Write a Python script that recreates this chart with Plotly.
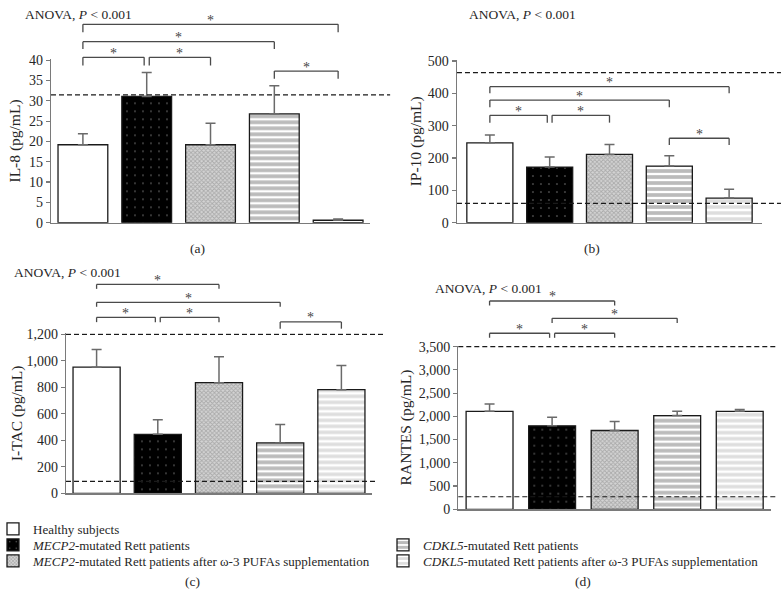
import plotly.graph_objects as go

# ---------------- data ----------------
groups = [
    "Healthy subjects",
    "<i>MECP2</i>-mutated Rett patients",
    "<i>MECP2</i>-mutated Rett patients after ω-3 PUFAs supplementation",
    "<i>CDKL5</i>-mutated Rett patients",
    "<i>CDKL5</i>-mutated Rett patients after ω-3 PUFAs supplementation",
]
categories = [0, 1, 2, 3, 4]

il8_mean = [19.2, 31.1, 19.2, 26.8, 0.6]
il8_err = [2.7, 5.9, 5.3, 6.9, 0.3]
ip10_mean = [247, 172, 211, 175, 76]
ip10_err = [24, 31, 31, 32, 27]
itac_mean = [952, 445, 835, 380, 782]
itac_err = [133, 110, 195, 140, 183]
rantes_mean = [2108, 1796, 1696, 2017, 2108]
rantes_err = [159, 185, 192, 91, 37]

il8_ref = [31.5]
ip10_ref = [464, 60]
itac_ref = [1200, 90]
rantes_ref = [3500, 270]

y_titles = ["IL-8 (pg/mL)", "IP-10 (pg/mL)", "I-TAC (pg/mL)", "RANTES (pg/mL)"]
panel_labels = ["(a)", "(b)", "(c)", "(d)"]
y_ranges = [[0, 40], [0, 500], [0, 1200], [0, 3500]]
y_dticks = [5, 100, 200, 500]

# significance brackets: (from, to, level in axis-domain units, leg length)
brackets = [
    [(0, 4, 1.214, 0.048), (0, 3, 1.108, 0.045), (0, 1, 1.012, 0.05), (1, 2, 1.012, 0.05), (3, 4, 0.928, 0.047)],
    [(0, 4, 0.836, 0.041), (0, 3, 0.754, 0.045), (0, 1, 0.660, 0.045), (1, 2, 0.660, 0.045), (3, 4, 0.519, 0.041)],
    [(0, 2, 1.306, 0.028), (0, 3, 1.194, 0.028), (0, 1, 1.100, 0.03), (1, 2, 1.100, 0.03), (3, 4, 1.071, 0.042)],
    [(0, 2, 1.273, 0.028), (1, 3, 1.167, 0.028), (0, 1, 1.076, 0.028), (1, 2, 1.076, 0.028)],
]

# ---------------- styling ----------------
FONT = "Liberation Serif"
TXT = "#262626"
GRAY = "#7a7a7a"
patterns = [
    dict(color="white", pattern=dict(shape="")),
    dict(color="black", pattern=dict(shape=".", fgcolor="white", bgcolor="black", size=8, solidity=0.03)),
    dict(color="#a8a8a8", pattern=dict(shape="x", fgcolor="#808080", bgcolor="#d4d4d4", size=3, solidity=0.5)),
    dict(color="#787878", pattern=dict(shape="-", fgcolor="#787878", bgcolor="white", size=6, solidity=0.62)),
    dict(color="#bdbdbd", pattern=dict(shape="-", fgcolor="#bdbdbd", bgcolor="white", size=6, solidity=0.58)),
]
bar_widths = [0.78, 0.77, 0.77, 0.75]

x_domains = [[0.0653, 0.4738], [0.5851, 0.9757], [0.0845, 0.4763], [0.5868, 0.9872]]
y_domains = [[0.6301, 0.9015], [0.6301, 0.9003], [0.1806, 0.4463], [0.1540, 0.4258]]
x_ranges = [[-0.5, 4.5], [-0.55, 4.55], [-0.5, 4.5], [-0.5, 4.5]]
ref_extent = [[1.063], [1.062, 1.062], [1.036, 1.016], [1.019, 1.019]]
title_standoff = [4, 2, 0, 3]
range_pad = 1.006  # tiny headroom so lines on the top tick aren't clipped

means = [il8_mean, ip10_mean, itac_mean, rantes_mean]
errs = [il8_err, ip10_err, itac_err, rantes_err]
refs = [il8_ref, ip10_ref, itac_ref, rantes_ref]

fig = go.Figure()
legend_ids = ["legend", "legend2", "legend3", "legend4", "legend5"]

for p in range(4):
    n = "" if p == 0 else str(p + 1)
    for g in range(5):
        m = patterns[g]
        fig.add_trace(go.Bar(
            x=[categories[g]], y=[means[p][g]],
            width=bar_widths[p],
            name=groups[g],
            marker=dict(color=m["color"], pattern=m["pattern"],
                        line=dict(color="#1a1a1a", width=1.3)),
            error_y=dict(type="data", array=[errs[p][g]], arrayminus=[0], symmetric=False,
                         color="#6a6a6a", thickness=1.5, width=5),
            xaxis="x" + n, yaxis="y" + n,
            showlegend=(p == 0), legend=legend_ids[g],
        ))

shapes = []
annotations = []
for p in range(4):
    n = "" if p == 0 else str(p + 1)
    xa, ya = "x" + n, "y" + n
    for k, v in enumerate(refs[p]):
        shapes.append(dict(type="line", xref=xa + " domain", yref=ya, x0=0, x1=ref_extent[p][k],
                           y0=v, y1=v, line=dict(color="#1a1a1a", width=1.2, dash="5px,3px")))
    ends = {}
    for (i, j, lvl, leg) in brackets[p]:
        ends.setdefault(lvl, []).append((i, j))
    for (i, j, lvl, leg) in brackets[p]:
        x0, x1 = categories[i], categories[j]
        same = ends[lvl]
        if any(a == j for (a, b) in same if (a, b) != (i, j)):
            x1 -= 0.04
        if any(b == i for (a, b) in same if (a, b) != (i, j)):
            x0 += 0.04
        lc = dict(color="#4a4a4a", width=1.3)
        shapes.append(dict(type="line", xref=xa, yref=ya + " domain", x0=x0, x1=x1, y0=lvl, y1=lvl, line=lc))
        shapes.append(dict(type="line", xref=xa, yref=ya + " domain", x0=x0, x1=x0, y0=lvl, y1=lvl - leg, line=lc))
        shapes.append(dict(type="line", xref=xa, yref=ya + " domain", x0=x1, x1=x1, y0=lvl, y1=lvl - leg, line=lc))
        annotations.append(dict(text="*", xref=xa, yref=ya + " domain", x=(x0 + x1) / 2, y=lvl,
                                yanchor="middle", xanchor="center", yshift=4, showarrow=False,
                                font=dict(family=FONT, size=14, color="#444444")))

anova_pos = [(23, 14), (467, 14), (12, 272), (433, 288)]
for (xp, yp) in anova_pos:
    annotations.append(dict(text="ANOVA, <i>P</i> &lt; 0.001", xref="paper", yref="paper",
                            x=xp / 781, y=1 - yp / 602, xanchor="left", yanchor="middle",
                            showarrow=False, font=dict(family=FONT, size=13.5, color=TXT)))
label_pos = [(197, 248), (592, 248), (192, 581), (583, 581)]
for lab, (xp, yp) in zip(panel_labels, label_pos):
    annotations.append(dict(text=lab, xref="paper", yref="paper", x=xp / 781, y=1 - yp / 602,
                            xanchor="center", yanchor="middle", showarrow=False,
                            font=dict(family=FONT, size=13.5, color=TXT)))

layout = dict(
    width=781, height=602, margin=dict(l=0, r=0, t=0, b=0, autoexpand=False),
    paper_bgcolor="white", plot_bgcolor="white",
    barmode="overlay",
    font=dict(family=FONT, size=13, color=TXT),
    shapes=shapes, annotations=annotations,
)
for p in range(4):
    n = "" if p == 0 else str(p + 1)
    layout["xaxis" + n] = dict(domain=x_domains[p], range=x_ranges[p], anchor="y" + n,
                               showticklabels=False, ticks="", showgrid=False, zeroline=False,
                               showline=True, linecolor=GRAY, linewidth=1.3, fixedrange=True,
                               automargin=False)
    layout["yaxis" + n] = dict(domain=y_domains[p],
                               range=[y_ranges[p][0], y_ranges[p][1] * range_pad], anchor="x" + n,
                               dtick=y_dticks[p], tick0=0, tickformat=",d",
                               ticks="outside", ticklen=4, tickcolor=GRAY, tickwidth=1.2,
                               showgrid=False, zeroline=False, showline=True, linecolor=GRAY,
                               linewidth=1.3, tickfont=dict(family=FONT, size=14, color=TXT),
                               automargin=False, fixedrange=True,
                               title=dict(text=y_titles[p], standoff=title_standoff[p],
                                          font=dict(family=FONT, size=15.5, color=TXT)))

legend_pos = [(-7, 529), (-7, 545), (-7, 561), (383, 545), (383, 561)]
for lid, (xp, yp) in zip(legend_ids, legend_pos):
    layout[lid] = dict(x=xp / 781, y=1 - yp / 602, xanchor="left", yanchor="middle",
                       bgcolor="rgba(0,0,0,0)", font=dict(family=FONT, size=13, color=TXT),
                       itemclick=False, itemdoubleclick=False)

fig.update_layout(**layout)
fig.write_html("out.html", config={"displayModeBar": False, "staticPlot": True},
               post_script="document.body.style.margin='0px';document.body.style.padding='0px';")
